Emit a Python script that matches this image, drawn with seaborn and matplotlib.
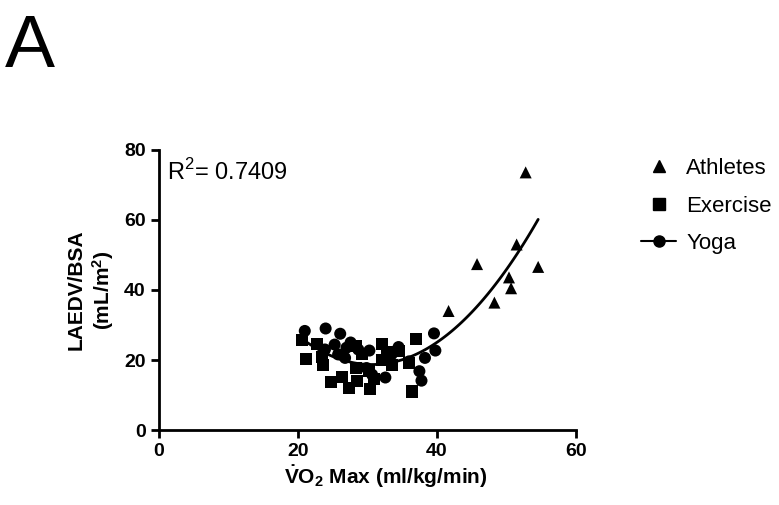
import pandas as pd
import numpy as np
import matplotlib
matplotlib.use("Agg")
import matplotlib.pyplot as plt
from matplotlib.lines import Line2D
import seaborn as sns

# Athletes (triangles)
athletes_x = [52.8, 51.5, 45.8, 54.6, 50.4, 50.7, 48.3, 41.7]
athletes_y = [73.6, 53.0, 47.4, 46.6, 43.6, 40.5, 36.4, 34.0]

# Exercise (squares)
exercise_x = [20.6, 21.2, 22.7, 23.6, 24.8, 26.3, 27.3, 28.5, 28.4, 30.4, 30.9, 32.1,
              32.1, 33.6, 32.9, 34.6, 37.0, 36.4, 36.0, 23.5, 29.2, 28.3, 30.3]
exercise_y = [25.7, 20.4, 24.7, 18.7, 13.7, 15.2, 12.0, 14.1, 17.7, 11.8, 14.7, 24.7,
              20.1, 18.5, 22.3, 22.5, 26.1, 11.0, 19.2, 20.8, 21.6, 23.9, 16.8]

# Yoga (circles)
yoga_x = [21.0, 24.0, 26.1, 27.6, 25.3, 25.8, 26.8, 28.7, 30.3, 29.9, 30.7, 32.6,
          34.5, 33.5, 36.0, 37.5, 37.8, 38.3, 39.6, 39.8, 23.9, 27.0]
yoga_y = [28.3, 29.0, 27.5, 25.0, 24.4, 21.6, 20.6, 23.0, 22.7, 17.7, 15.8, 15.0,
          23.7, 21.6, 19.6, 16.8, 14.1, 20.6, 27.6, 22.7, 23.0, 23.5]

groups = ["Athletes", "Exercise", "Yoga"]
r2_text = "R$^2$= 0.7409"

df = pd.concat([
    pd.DataFrame({"vo2": athletes_x, "laedv": athletes_y, "group": "Athletes"}),
    pd.DataFrame({"vo2": exercise_x, "laedv": exercise_y, "group": "Exercise"}),
    pd.DataFrame({"vo2": yoga_x, "laedv": yoga_y, "group": "Yoga"}),
], ignore_index=True)

sns.set_style("white")
plt.rcParams["font.family"] = ["Liberation Sans", "DejaVu Sans"]
plt.rcParams["text.color"] = "black"
plt.rcParams["axes.labelcolor"] = "black"
plt.rcParams["mathtext.fontset"] = "custom"
plt.rcParams["mathtext.rm"] = "Liberation Sans"
plt.rcParams["mathtext.bf"] = "Liberation Sans:bold"

fig = plt.figure(figsize=(7.79, 5.05), dpi=100)
ax = fig.add_axes([0.204, 0.1485, 0.535, 0.5545])

markers = {"Athletes": "^", "Exercise": "s", "Yoga": "o"}
sns.scatterplot(data=df, x="vo2", y="laedv", style="group", markers=markers,
                color="black", s=75, edgecolor="black", linewidth=0, legend=False, ax=ax)

# quadratic fit through all points
sns.regplot(data=df, x="vo2", y="laedv", order=2, scatter=False, ci=None,
            color="black", line_kws={"linewidth": 2}, truncate=True, ax=ax)

ax.set_xlim(0, 60)
ax.set_ylim(0, 80)
ax.set_xticks([0, 20, 40, 60])
ax.set_yticks([0, 20, 40, 60, 80])
for side in ["top", "right"]:
    ax.spines[side].set_visible(False)
for side in ["left", "bottom"]:
    ax.spines[side].set_linewidth(2)
    ax.spines[side].set_color("black")
ax.tick_params(axis="both", length=6, width=2, labelsize=14, colors="black", direction="out",
               bottom=True, left=True)
for lbl in ax.get_xticklabels() + ax.get_yticklabels():
    lbl.set_fontweight("bold")

ax.set_xlabel(r"$\mathbf{\dot{V}O_2}$ Max (ml/kg/min)", fontsize=15, fontweight="bold")
ax.xaxis.set_label_coords(0.545, -0.118)
ax.set_ylabel("LAEDV/BSA\n(mL/m$\\mathbf{^2}$)", fontsize=15, fontweight="bold", labelpad=6)

ax.text(0.02, 0.92, r2_text, transform=ax.transAxes, fontsize=17, va="center", ha="left")

handles = [
    Line2D([], [], marker="^", color="black", linestyle="none", markersize=8),
    Line2D([], [], marker="s", color="black", linestyle="none", markersize=8),
    Line2D([], [], marker="o", color="black", linestyle="-", linewidth=1.5, markersize=8),
]
fig.legend(handles, groups, loc="upper left", bbox_to_anchor=(0.797, 0.727), frameon=False,
           fontsize=16, handlelength=1.6, labelspacing=0.75, handletextpad=0.45)

fig.text(0.006, 0.975, "A", fontsize=54, va="top", ha="left")

fig.savefig("out.png", dpi=100)
